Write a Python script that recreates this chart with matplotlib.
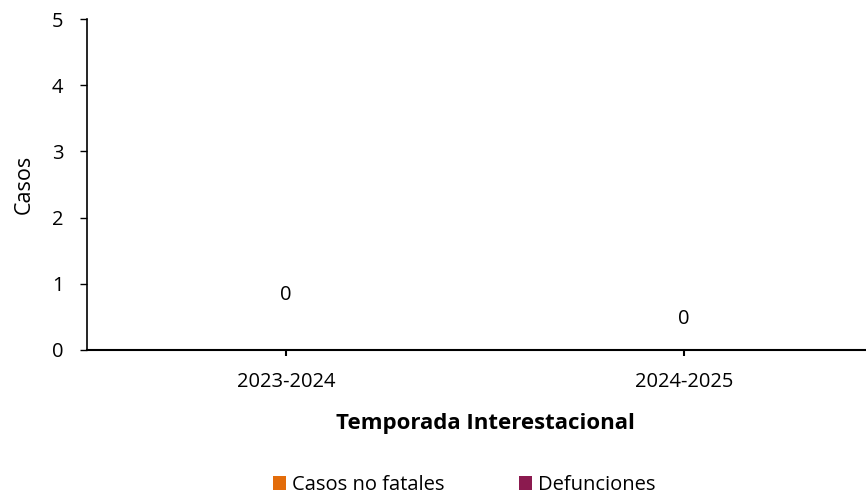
import matplotlib.pyplot as plt
import numpy as np

temporadas = ['2023-2024', '2024-2025']
casos_no_fatales = [0, 0]
defunciones = [0, 0]
etiquetas = ['0', '0']

plt.rcParams['font.family'] = ['Open Sans', 'DejaVu Sans']

fig = plt.figure(figsize=(8.66, 4.94), dpi=100)
ax = fig.add_axes([0.1005, 0.2915, 0.919, 0.67])

x = np.arange(len(temporadas))
ax.bar(x, casos_no_fatales, width=0.5, color='#E36C0A', label='Casos no fatales')
ax.bar(x, defunciones, width=0.5, bottom=casos_no_fatales, color='#8B1A4F', label='Defunciones')

# etiquetas de valor (posiciones como en el original)
for xi, yi, t in zip(x, [0.83, 0.47], etiquetas):
    ax.text(xi, yi, t, ha='center', va='center', fontsize=14.5)

ax.set_xlim(-0.5, 1.5)
ax.set_ylim(0, 5)
ax.set_xticks(x)
ax.set_xticklabels(temporadas, fontsize=14.5)
ax.set_yticks(range(6))
ax.tick_params(axis='y', labelsize=14.5, length=5, width=1, pad=12)
ax.tick_params(axis='x', length=4, width=1.5, pad=12)
for s in ['top', 'right']:
    ax.spines[s].set_visible(False)
ax.spines['left'].set_linewidth(1.2)
ax.spines['bottom'].set_linewidth(1.5)

ax.set_ylabel('Casos', fontsize=15.5, labelpad=12)
ax.set_xlabel('Temporada Interestacional', fontsize=16, fontweight='bold', labelpad=15)

ax.legend(loc='center', bbox_to_anchor=(464 / 866, 1 - 485 / 494), bbox_transform=fig.transFigure,
          ncol=2, frameon=False, fontsize=14.5, handlelength=0.65, handleheight=0.65,
          handletextpad=0.3, columnspacing=3.7)

fig.savefig('out.png', dpi=100)
